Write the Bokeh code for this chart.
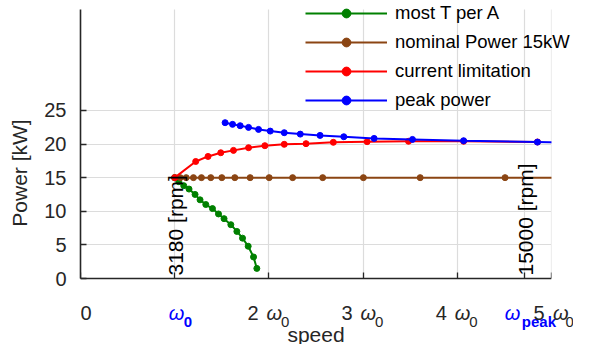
import math
from bokeh.plotting import figure
from bokeh.models import Range1d, FixedTicker, Legend, LegendItem, Label, BoxAnnotation
from bokeh.core.properties import value
from bokeh.embed import file_html
from bokeh.resources import INLINE

# ---------------- data ----------------
base_rpm = 3180
peak_rpm = 15000
omega_peak = peak_rpm / base_rpm          # speed in multiples of omega_0
x_max = 5
y_max = 40

x_ticks = [0, 1, 2, 3, 4, omega_peak, 5]
y_ticks = [0, 5, 10, 15, 20, 25]

tick_prefix = ["0", "", "2", "3", "4", "", "5"]
tick_symbol = ["", "ω", "ω", "ω", "ω", "ω", "ω"]
tick_sub = ["", "0", "0", "0", "0", "peak", "0"]
tick_highlight = [False, True, False, False, False, True, False]

mtpa_speed = [1.0, 1.043, 1.096, 1.152, 1.216, 1.269, 1.330, 1.401, 1.465,
              1.524, 1.596, 1.660, 1.720, 1.780, 1.837, 1.872]
mtpa_power = [15.0, 14.4, 13.8, 13.3, 12.5, 11.7, 11.0, 10.4, 9.6,
              8.9, 8.0, 7.0, 6.0, 4.8, 3.2, 1.5]

nominal_speed = [1.0, 1.059, 1.122, 1.199, 1.284, 1.383, 1.5, 1.638, 1.801,
                 2.003, 2.252, 2.571, 3.003, 3.606, 4.507, 5.6]
nominal_power = [15, 15, 15, 15, 15, 15, 15, 15, 15, 15, 15, 15, 15, 15, 15, 15]

current_speed = [1.0, 1.223, 1.354, 1.489, 1.624, 1.784, 1.957, 2.163, 2.394,
                 2.684, 3.043, 3.482, 4.067, 4.851]
current_power = [15.0, 17.4, 18.15, 18.7, 19.05, 19.45, 19.75, 19.95, 20.05,
                 20.25, 20.35, 20.4, 20.4, 20.3]

peak_speed = [1.535, 1.614, 1.695, 1.784, 1.890, 2.014, 2.163, 2.333, 2.543,
              2.795, 3.117, 3.524, 4.067, 4.851, 5.6]
peak_power_kw = [23.17, 22.92, 22.72, 22.47, 22.17, 21.92, 21.68, 21.47, 21.28,
                 21.08, 20.83, 20.68, 20.49, 20.28, 20.1]

series_labels = ["most T per A", "nominal Power 15kW", "current limitation", "peak power"]
rpm_marks = [base_rpm, peak_rpm]

# ---------------- style / layout ----------------
FONT = "Liberation Sans"
AX = "#262626"
colors = ["#008000", "#8B4513", "#ff0000", "#0000ff"]
W, H = 573, 344
BL, BR, BT, BB = 80, 0, 1, 0          # borders around the frame (y axis sits at BL)
AXIS_Y = 278                           # canvas y of the x axis
PXX = 94.2                             # px per omega_0
PXY = 6.725                            # px per kW
x_start = 0
x_end = (W - BL - BR) / PXX
y_start = -((H - BB) - AXIS_Y) / PXY
y_end = (AXIS_Y - BT) / PXY

p = figure(width=W, height=H, output_backend="svg", toolbar_location=None,
           x_range=Range1d(x_start, x_end), y_range=Range1d(y_start, y_end),
           min_border_left=BL, min_border_right=BR, min_border_top=BT,
           min_border_bottom=BB)
p.outline_line_color = None
p.background_fill_color = "white"

for ax in (p.xaxis[0], p.yaxis[0]):
    ax.axis_line_color = AX
    ax.axis_line_width = 1.6
    ax.major_tick_line_color = AX
    ax.major_tick_line_width = 1.3
    ax.major_tick_in = 6
    ax.major_tick_out = 0
    ax.minor_tick_line_color = None

xa = p.xaxis[0]
xa.fixed_location = 0
xa.bounds = (0, x_max)
xa.ticker = FixedTicker(ticks=x_ticks)
xa.major_label_text_color = None
xa.major_label_text_font_size = "1px"
xa.major_label_standoff = 0

ya = p.yaxis[0]
ya.bounds = (0, y_max)
ya.ticker = FixedTicker(ticks=y_ticks)
ya.major_label_text_font = FONT
ya.major_label_text_font_size = "20px"
ya.major_label_text_color = AX
ya.major_label_standoff = 14
ya.axis_label = "Power [kW]"
ya.axis_label_text_font = FONT
ya.axis_label_text_font_size = "21px"
ya.axis_label_text_font_style = "normal"
ya.axis_label_text_color = AX
ya.axis_label_standoff = 10

p.xgrid.ticker = FixedTicker(ticks=x_ticks)
p.ygrid.ticker = FixedTicker(ticks=y_ticks)
for g in (p.xgrid[0], p.ygrid[0]):
    g.grid_line_color = "#dcdcdc"
    g.grid_line_width = 1.2
has_cross = "cross_bounds" in type(p.xgrid[0]).properties()
if has_cross:
    p.xgrid[0].cross_bounds = (0, y_max)
    p.ygrid[0].cross_bounds = (0, x_max)

series = [(mtpa_speed, mtpa_power), (nominal_speed, nominal_power),
          (current_speed, current_power), (peak_speed, peak_power_kw)]
items = []
for (xs, ys), c, lab in zip(series, colors, series_labels):
    ln = p.line(xs, ys, line_color=c, line_width=2)
    sc = p.scatter(xs, ys, size=6, fill_color=c, line_color=c)
    items.append(LegendItem(label=lab, renderers=[ln, sc]))

# rotated rpm annotations at omega_0 and omega_peak
p.text(x=[1, omega_peak], y=[0, 0],
       text=[f"{r} [rpm]" for r in rpm_marks],
       angle=math.pi / 2, x_offset=1, y_offset=-3,
       text_align="left", text_baseline="middle",
       text_font=value(FONT), text_font_size="21px", text_color="#000000")

# mask the series where they run past the end of the speed axis (x > 5)
p.add_layout(BoxAnnotation(left=x_max, fill_color="white", fill_alpha=1, line_alpha=0))
if not has_cross:
    p.add_layout(BoxAnnotation(top=0, fill_color="white", fill_alpha=1, line_alpha=0))

legend = Legend(items=items, location=(225, 233), orientation="vertical",
                glyph_width=82, glyph_height=22, label_height=22, spacing=7,
                padding=0, margin=0, label_standoff=8,
                label_text_font=FONT, label_text_font_size="18.5px",
                label_text_color="#000000", label_text_baseline="middle",
                border_line_color=None, background_fill_alpha=0)
p.add_layout(legend, "center")

# x tick labels built from pieces: (prefix, omega, subscript) left offsets in px
offsets = {
    0: (0, None, None),
    1: (None, -6, 9),
    2: (-21.5, -2.5, 12),
    3: (-21.5, -2.5, 12),
    4: (-21.5, -2.5, 12),
    5: (None, -20, -3),
    6: (-18, 1.5, 14),
}
MAIN_Y = -34
SUB_Y = -43
for i, t in enumerate(x_ticks):
    pre_off, sym_off, sub_off = offsets[i]
    hl = tick_highlight[i]
    if tick_prefix[i]:
        p.add_layout(Label(x=t, y=0, x_offset=pre_off, y_offset=MAIN_Y, text=tick_prefix[i],
                           text_font=FONT, text_font_size="20px", text_color=AX,
                           text_align="left", text_baseline="alphabetic"))
    if tick_symbol[i]:
        p.add_layout(Label(x=t, y=0, x_offset=sym_off, y_offset=MAIN_Y, text=tick_symbol[i],
                           text_font=FONT, text_font_size="20px", text_font_style="italic",
                           text_color="#0000ff" if hl else AX,
                           text_align="left", text_baseline="alphabetic"))
    if tick_sub[i]:
        p.add_layout(Label(x=t, y=0, x_offset=sub_off, y_offset=SUB_Y, text=tick_sub[i],
                           text_font=FONT, text_font_size="15px",
                           text_font_style="bold" if hl else "normal",
                           text_color="#0000ff" if hl else AX,
                           text_align="left", text_baseline="alphabetic"))

p.add_layout(Label(x=x_max / 2, y=0, y_offset=-56, text="speed", text_font=FONT,
                   text_font_size="21px", text_color=AX, text_align="center",
                   text_baseline="alphabetic"))

open("out.html", "w").write(file_html(p, INLINE))
